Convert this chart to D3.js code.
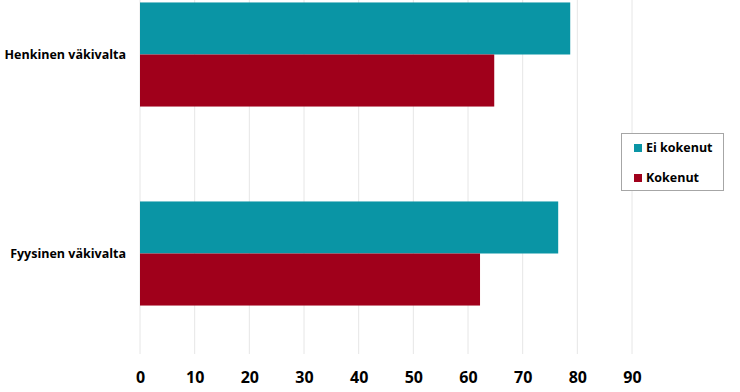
<!DOCTYPE html>
<html><head><meta charset="utf-8">
<script src="https://cdn.jsdelivr.net/npm/d3@7"></script>
<style>body{margin:0;background:#fff}svg{display:block}</style>
</head><body>
<svg id="c" width="740" height="392"></svg>
<script>
const categories = ["Henkinen väkivalta", "Fyysinen väkivalta"];
const seriesNames = ["Ei kokenut", "Kokenut"];
const eiKokenut = [78.7, 76.5];
const kokenut = [64.8, 62.2];
const xTicks = [0, 10, 20, 30, 40, 50, 60, 70, 80, 90];
const colors = ["#0a95a5", "#a0001b"];

const svg = d3.select("#c");
const font = "'Open Sans', sans-serif";
const x = d3.scaleLinear().domain([0, 90]).range([140, 632]);
const y = d3.scaleBand().domain(categories).range([-45, 353]).paddingInner(0.477).paddingOuter(0.2385);
const yIn = d3.scaleBand().domain(seriesNames).range([0, y.bandwidth()]);

// gridlines
svg.append("g").selectAll("line").data(xTicks).join("line")
  .attr("x1", d => x(d)).attr("x2", d => x(d))
  .attr("y1", 0).attr("y2", 354)
  .attr("stroke", "#e6e6e6").attr("stroke-width", 1);

const seriesData = [eiKokenut, kokenut];
seriesNames.forEach((s, i) => {
  svg.append("g").selectAll("rect").data(categories).join("rect")
    .attr("x", x(0))
    .attr("y", c => y(c) + yIn(s))
    .attr("width", (c, j) => x(seriesData[i][j]) - x(0))
    .attr("height", yIn.bandwidth())
    .attr("fill", colors[i]);
});

// x axis labels
const xa = svg.append("g").attr("transform", "translate(0,354)")
  .call(d3.axisBottom(x).tickValues(xTicks).tickSize(0).tickPadding(18));
xa.select(".domain").remove();
xa.selectAll("text").attr("font-family", font).attr("font-weight", "bold")
  .attr("font-size", 16).attr("fill", "#000");

// category labels
const ya = svg.append("g").attr("transform", "translate(126,0)")
  .call(d3.axisLeft(y).tickSize(0).tickPadding(0));
ya.select(".domain").remove();
ya.selectAll("text").attr("font-family", font).attr("font-weight", "bold")
  .attr("font-size", 12.5).attr("fill", "#000");

// legend
const lg = svg.append("g");
lg.append("rect").attr("x", 621.5).attr("y", 133.5).attr("width", 102).attr("height", 57)
  .attr("fill", "#fff").attr("stroke", "#a6a6a6").attr("stroke-width", 1);
seriesNames.forEach((s, i) => {
  const yy = 148 + i * 30;
  lg.append("rect").attr("x", 634).attr("y", yy - 4).attr("width", 8).attr("height", 8).attr("fill", colors[i]);
  lg.append("text").attr("x", 646).attr("y", yy).attr("dy", "0.35em")
    .attr("font-family", font).attr("font-weight", "bold").attr("font-size", 12.5).attr("fill", "#000").text(s);
});
</script>
</body></html>
